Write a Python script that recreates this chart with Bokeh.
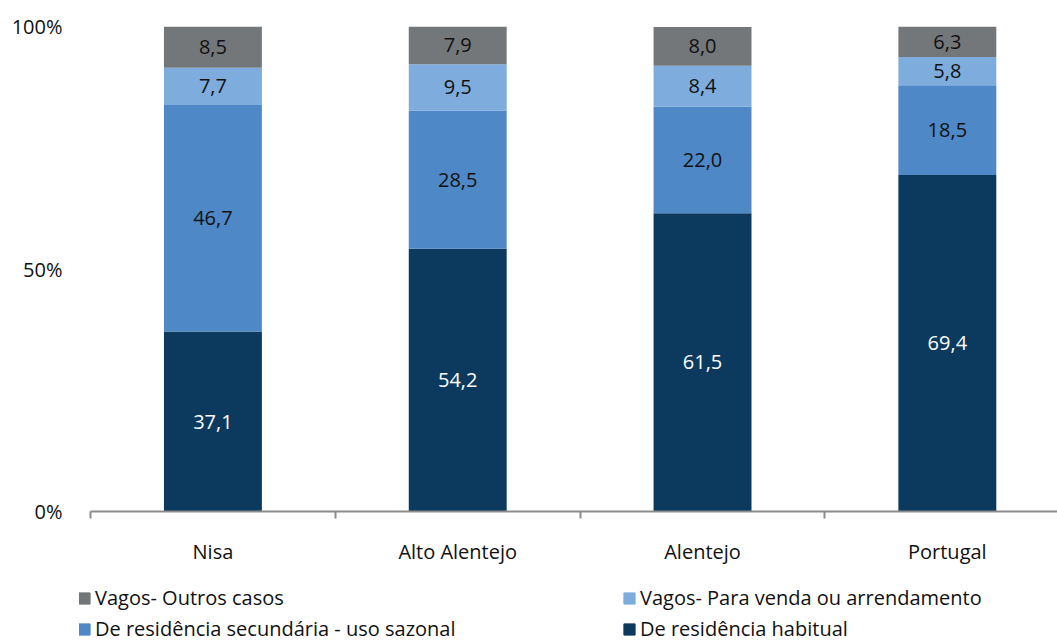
from bokeh.plotting import figure
from bokeh.layouts import column
from bokeh.models import (Range1d, FixedTicker, Legend, LegendItem, ColumnDataSource)
from bokeh.core.properties import value
from bokeh.embed import file_html
from bokeh.resources import INLINE

categories = ["Nisa", "Alto Alentejo", "Alentejo", "Portugal"]
habitual = [37.1, 54.2, 61.5, 69.4]
secundaria = [46.7, 28.5, 22.0, 18.5]
venda = [7.7, 9.5, 8.4, 5.8]
outros = [8.5, 7.9, 8.0, 6.3]

series_names = ["De residência habitual", "De residência secundária - uso sazonal",
                "Vagos- Para venda ou arrendamento", "Vagos- Outros casos"]
colors = ["#0C3A5F", "#4F88C6", "#7EADDD", "#747779"]
text_colors = ["white", "#111111", "#111111", "#111111"]
FONT = "Open Sans"
FS = "20px"

xs = list(range(len(categories)))
p = figure(frame_width=978, frame_height=485, output_backend="svg", toolbar_location=None,
           x_range=Range1d(-0.545, 3.45), y_range=Range1d(0, 100),
           min_border_left=79, min_border_right=0, min_border_top=26, min_border_bottom=55)
p.outline_line_color = None
p.xgrid.visible = False
p.ygrid.visible = False

data = {"x": xs, "habitual": habitual, "secundaria": secundaria, "venda": venda, "outros": outros}
src = ColumnDataSource(data)
keys = ["habitual", "secundaria", "venda", "outros"]
renderers = p.vbar_stack(keys, x="x", width=0.4, source=src, color=colors, line_color=None)

# labels
series = [habitual, secundaria, venda, outros]
bottoms = [0.0] * len(xs)
for vals, tc in zip(series, text_colors):
    mids = [b + v / 2 for b, v in zip(bottoms, vals)]
    labels = [f"{v:.1f}".replace(".", ",") for v in vals]
    p.text(x=xs, y=mids, text=labels, text_align="center", text_baseline="middle",
           text_color=tc, text_font=value(FONT), text_font_size=FS)
    bottoms = [b + v for b, v in zip(bottoms, vals)]

# x axis
p.xaxis.bounds = (-0.5, 3.45)
p.xaxis.ticker = FixedTicker(ticks=xs, minor_ticks=[-0.5, 0.5, 1.5, 2.5, 3.5])
p.xaxis.major_label_overrides = {i: c for i, c in enumerate(categories)}
p.xaxis.major_tick_out = 0
p.xaxis.major_tick_in = 0
p.xaxis.minor_tick_out = 7
p.xaxis.minor_tick_in = 0
p.xaxis.minor_tick_line_color = "#8C8C8C"
p.xaxis.minor_tick_line_width = 2
p.xaxis.axis_line_color = "#8C8C8C"
p.xaxis.axis_line_width = 2
p.xaxis.major_label_standoff = 19
p.xaxis.major_label_text_font = FONT
p.xaxis.major_label_text_font_size = FS
p.xaxis.major_label_text_color = "#111111"

# y axis
p.yaxis.ticker = FixedTicker(ticks=[0, 50, 100])
p.yaxis.major_label_overrides = {0: "0%", 50: "50%", 100: "100%"}
p.yaxis.axis_line_color = None
p.yaxis.major_tick_line_color = None
p.yaxis.minor_tick_line_color = None
p.yaxis.major_label_standoff = 11
p.yaxis.major_label_text_font = FONT
p.yaxis.major_label_text_font_size = FS
p.yaxis.major_label_text_color = "#111111"

# legend figure
lg = figure(width=1057, height=75, output_backend="svg", toolbar_location=None,
            x_range=Range1d(0, 1), y_range=Range1d(0, 1),
            x_axis_location=None, y_axis_location=None,
            min_border=0, min_border_left=0, min_border_right=0,
            min_border_top=0, min_border_bottom=0)
lg.grid.visible = False
lg.outline_line_color = None
dummy = ColumnDataSource({"x": [-10], "top": [-10]})
lr = [lg.vbar(x="x", top="top", width=0.1, source=dummy, color=c) for c in colors]

common = dict(label_height=22, glyph_width=14, glyph_height=14,
              label_standoff=4, spacing=4, padding=0, margin=0,
              label_text_font=FONT, label_text_font_size="20px", label_text_color="#111111",
              border_line_color=None, background_fill_alpha=0)
legend_left = Legend(items=[LegendItem(label=series_names[3], renderers=[lr[3]]),
                            LegendItem(label=series_names[1], renderers=[lr[1]])],
                     location=(-2, 0), **common)
legend_right = Legend(items=[LegendItem(label=series_names[2], renderers=[lr[2]]),
                             LegendItem(label=series_names[0], renderers=[lr[0]])],
                      location=(543, 0), **common)
lg.add_layout(legend_left, "center")
lg.add_layout(legend_right, "center")

layout = column(p, lg, spacing=0)
open("out.html", "w").write(file_html(layout, INLINE))
